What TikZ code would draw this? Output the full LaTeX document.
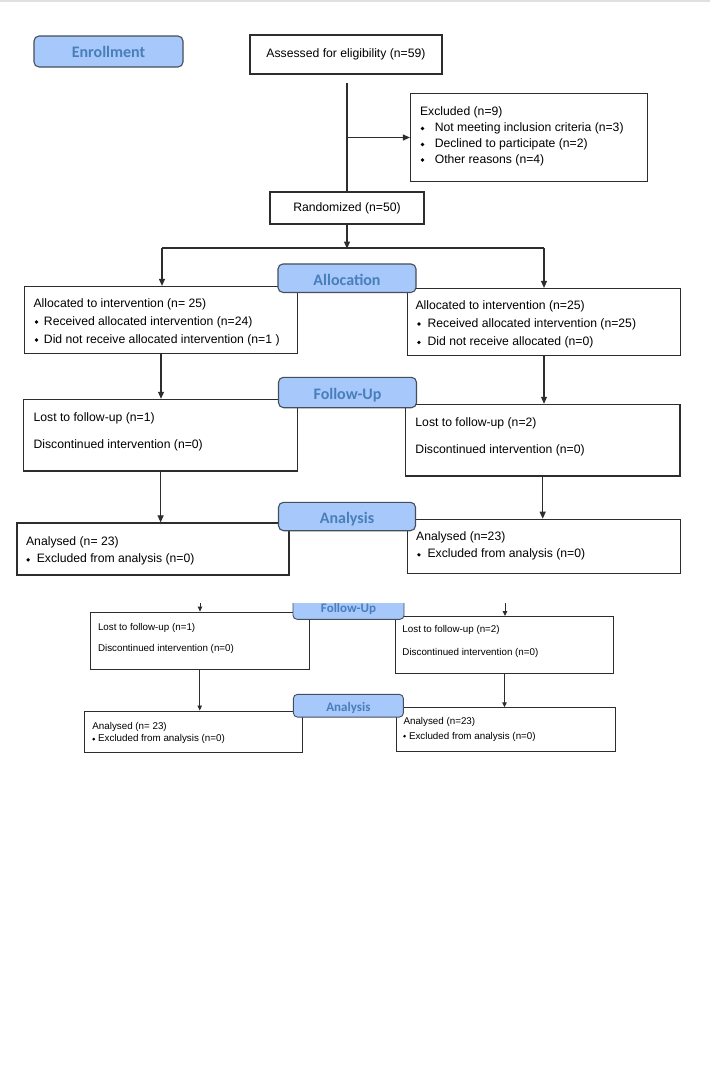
\documentclass[tikz,border=0pt]{standalone}
\usepackage{fontspec}
\setmainfont{Liberation Sans}
\newfontfamily\stagefam{Carlito}
\usetikzlibrary{arrows.meta,positioning,calc}
\definecolor{stagefill}{RGB}{166,200,250}
\definecolor{stagetext}{RGB}{74,126,187}
\definecolor{edge}{RGB}{45,45,45}
\definecolor{stageedge}{RGB}{70,78,90}
\newcommand{\bul}[2][2.6pt]{\raisebox{1.3pt}{\rotatebox{45}{\rule{#1}{#1}}}\hspace{#2}}

\begin{document}
\begin{tikzpicture}[x=1pt, y=1pt,
  box/.style={draw=edge, line width=1.2pt, inner sep=0pt, font=\fontsize{12.2}{14}\selectfont},
  sbox/.style={draw=edge, line width=0.9pt, inner sep=0pt},
  stage/.style={draw=stageedge, line width=1.1pt, rounded corners=5pt, fill=stagefill, text=stagetext, inner sep=0pt, font=\stagefam\bfseries\fontsize{16}{18}\selectfont, text height=14pt, text depth=0pt},
  sstage/.style={stage, rounded corners=4pt, line width=0.9pt, font=\stagefam\bfseries\fontsize{13}{15}\selectfont, text height=11pt},
  txt/.style={anchor=west, inner sep=0pt, font=\fontsize{12.2}{14}\selectfont, text height=9pt, text depth=2.5pt},
  stxt/.style={txt, font=\fontsize{9.8}{11}\selectfont, text height=7.2pt, text depth=2pt},
  link/.style={draw=edge, line width=1.1pt},
  flow/.style={link, -{Triangle[length=7pt,width=6pt]}},
  sflow/.style={draw=edge, line width=0.9pt, -{Triangle[length=5pt,width=4.5pt]}}]
\fill[white] (0,0) rectangle (710,-1068);
\useasboundingbox (0,0) rectangle (710,-1068);
\draw[black!12, line width=2pt] (0,-1) -- (710,-1);

\node[stage, minimum width=149pt, minimum height=31pt, text height=11pt] (enroll) at (108.5,-51.5) {Enrollment};
\node[box, minimum width=192pt, minimum height=39pt] (assess) at (346,-54.5) {Assessed for eligibility (n=59)};

\node[box, minimum width=237pt, minimum height=88pt] (excl) at (529,-137.5) {};
\node[txt] (excl-1) at ($(excl.north west)+(10,-19.5)$) {Excluded (n=9)};
\node[txt] (excl-2) at ($(excl.north west)+(10.5,-35.5)$) {\bul{10.5pt}Not meeting inclusion criteria (n=3)};
\node[txt] (excl-3) at ($(excl.north west)+(10.5,-51.5)$) {\bul{10.5pt}Declined to participate (n=2)};
\node[txt] (excl-4) at ($(excl.north west)+(10.5,-67)$) {\bul{10.5pt}Other reasons (n=4)};

\node[box, minimum width=154pt, minimum height=32pt] (rand) at (347,-208) {Randomized (n=50)};

\coordinate (trunk) at ($(assess.south)+(1,-8)$);
\draw[link] (trunk) -- (trunk |- rand.north);
\draw[flow] (trunk |- excl.west) -- (excl.west);

\node[box, minimum width=273pt, minimum height=67pt] (allocL) at (161,-320) {};
\node[txt] (aL-1) at ($(allocL.north west)+(9.5,-18.5)$) {Allocated to intervention (n= 25)};
\node[txt] (aL-2) at ($(allocL.north west)+(10.5,-36)$) {\bul{5.7pt}Received allocated intervention (n=24)};
\node[txt] (aL-3) at ($(allocL.north west)+(10.5,-54)$) {\bul{5.7pt}Did not receive allocated intervention (n=1 )};

\node[box, minimum width=273pt, minimum height=67pt] (allocR) at (544,-322) {};
\node[txt] (aR-1) at ($(allocR.north west)+(8.4,-18.5)$) {Allocated to intervention (n=25)};
\node[txt] (aR-2) at ($(allocR.north west)+(10,-36)$) {\bul{6.8pt}Received allocated intervention (n=25)};
\node[txt] (aR-3) at ($(allocR.north west)+(10,-54.4)$) {\bul{6.8pt}Did not receive allocated (n=0)};

\coordinate (fork) at ($(rand.south)+(0,-24)$);
\coordinate (forkL) at (162,-248);
\coordinate (forkR) at (544,-248);
\draw[flow] (rand.south) -- (fork);
\draw[link] (forkL) -- (forkR);
\draw[flow] (forkL) -- (forkL |- allocL.north);
\draw[flow] (forkR) -- (forkR |- allocR.north);

\node[box, minimum width=274pt, minimum height=71.7pt] (followL) at (160.6,-435.2) {};
\node[txt] (fL-1) at ($(followL.north west)+(10.4,-19)$) {Lost to follow-up (n=1)};
\node[txt] (fL-2) at ($(followL.north west)+(10.4,-46.7)$) {Discontinued intervention (n=0)};

\node[box, minimum width=274.7pt, minimum height=71.7pt] (followR) at (542.7,-440.2) {};
\node[txt] (fR-1) at ($(followR.north west)+(10.5,-19)$) {Lost to follow-up (n=2)};
\node[txt] (fR-2) at ($(followR.north west)+(10.5,-46.7)$) {Discontinued intervention (n=0)};

\draw[flow] (allocL.south) -- (allocL.south |- followL.north);
\draw[flow] (allocR.south) -- (allocR.south |- followR.north);

\node[box, minimum width=272pt, minimum height=52pt] (anaL) at (153,-549) {};
\node[txt] (nL-1) at ($(anaL.north west)+(9.5,-19.7)$) {Analysed (n= 23)};
\node[txt] (nL-2) at ($(anaL.north west)+(9.7,-37.3)$) {\bul{6.8pt}Excluded from analysis (n=0)};

\node[box, minimum width=273pt, minimum height=54pt] (anaR) at (544,-546.3) {};
\node[txt] (nR-1) at ($(anaR.north west)+(9.1,-18.4)$) {Analysed (n=23)};
\node[txt] (nR-2) at ($(anaR.north west)+(10,-36)$) {\bul{6.8pt}Excluded from analysis (n=0)};

\draw[flow] (followL.south) -- (followL.south |- anaL.north);
\draw[flow] (followR.south) -- (followR.south |- anaR.north);

\node[stage, minimum width=138pt, minimum height=28.5pt] (alloc) at (347,-278.2) {Allocation};
\node[stage, minimum width=138pt, minimum height=30.4pt] (follow) at (347.5,-392.5) {Follow-Up};
\node[stage, minimum width=137pt, minimum height=28.4pt] (analysis) at (347,-516.5) {Analysis};

\node[sbox, minimum width=218.5pt, minimum height=57.3pt] (sfollowL) at (199.7,-640.7) {};
\node[stxt] (sfL-1) at ($(sfollowL.north west)+(7.8,-16)$) {Lost to follow-up (n=1)};
\node[stxt] (sfL-2) at ($(sfollowL.north west)+(7.8,-37)$) {Discontinued intervention (n=0)};

\node[sbox, minimum width=218pt, minimum height=57pt] (sfollowR) at (504.5,-645) {};
\node[stxt] (sfR-1) at ($(sfollowR.north west)+(7.2,-14.3)$) {Lost to follow-up (n=2)};
\node[stxt] (sfR-2) at ($(sfollowR.north west)+(7.2,-36.6)$) {Discontinued intervention (n=0)};

\node[sbox, minimum width=217.7pt, minimum height=41.5pt] (sanaL) at (193.3,-731.7) {};
\node[stxt] (snL-1) at ($(sanaL.north west)+(8.2,-16.5)$) {Analysed (n= 23)};
\node[stxt] (snL-2) at ($(sanaL.north west)+(8,-28.8)$) {\bul[2.1pt]{3pt}Excluded from analysis (n=0)};

\node[sbox, minimum width=219pt, minimum height=43.3pt] (sanaR) at (506,-729.4) {};
\node[stxt] (snR-1) at ($(sanaR.north west)+(7.3,-14.8)$) {Analysed (n=23)};
\node[stxt] (snR-2) at ($(sanaR.north west)+(6.8,-29.1)$) {\bul[2.1pt]{3pt}Excluded from analysis (n=0)};

\coordinate (stopL) at (200,-603);
\coordinate (stopR) at (505,-603);
\draw[sflow] (stopL) -- (stopL |- sfollowL.north);
\draw[sflow] (stopR) -- (stopR |- sfollowR.north);
\draw[sflow] (sfollowL.south) -- (sfollowL.south |- sanaL.north);
\draw[sflow] (sfollowR.south) -- (sfollowR.south |- sanaR.north);

\begin{scope}
\clip (0,-603) rectangle (710,-1068);
\node[sstage, minimum width=111pt, minimum height=24pt] (sfollow) at (348.5,-607.3) {Follow-Up};
\end{scope}
\node[sstage, minimum width=110pt, minimum height=22.7pt] (sanalysis) at (348.4,-705.7) {Analysis};
\end{tikzpicture}
\end{document}
